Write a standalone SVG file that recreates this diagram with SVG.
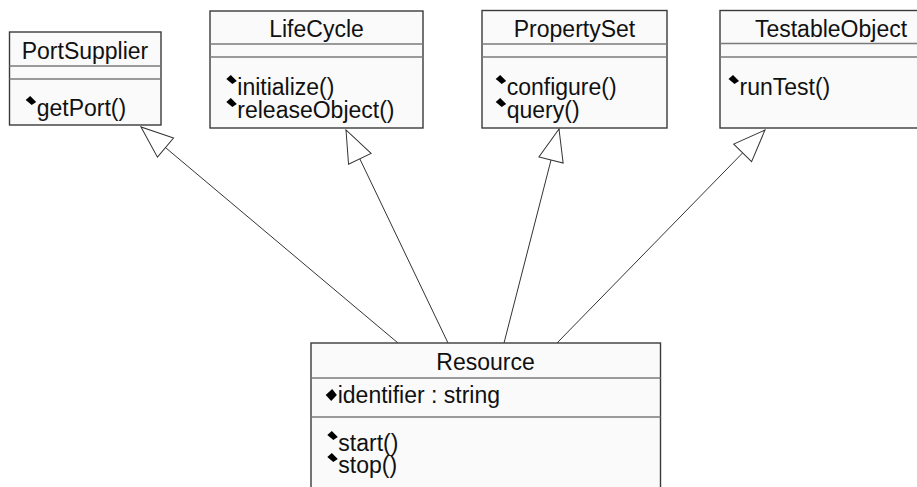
<svg xmlns="http://www.w3.org/2000/svg" xmlns:xlink="http://www.w3.org/1999/xlink" width="917" height="487" viewBox="0 0 917 487">
  <style>
    .box { fill: #fafafa; stroke: #3a3a3a; stroke-width: 1.4; }
    .div { stroke: #7a7a7a; stroke-width: 1.3; }
    .title { font-family: "Liberation Sans", Arial, sans-serif; font-size: 23px; fill: #111; text-anchor: middle; }
    .member { font-family: "Liberation Sans", Arial, sans-serif; font-size: 23px; fill: #111; }
    .edge { stroke: #333; stroke-width: 1; fill: none; marker-end: url(#realize); }
  </style>
  <defs>
    <!-- hollow generalization arrowhead -->
    <marker id="realize" markerUnits="userSpaceOnUse" viewBox="0 0 34 26" refX="33" refY="13" markerWidth="34" markerHeight="26" orient="auto" overflow="visible">
      <path d="M33,13 L1,0.5 L1,25.5 Z" fill="#ffffff" stroke="#333" stroke-width="1"/>
    </marker>
    <!-- operation visibility glyph, placed at text baseline start -->
    <path id="op" d="M-11,-16 L-6.5,-20 L-0.5,-14 L-5,-11 Z" fill="#000"/>
    <!-- attribute visibility glyph -->
    <path id="attr" d="M-12,-7.5 L-5.5,-13.5 L-0.8,-7.5 L-6.5,-1.5 Z" fill="#000"/>
  </defs>

  <g id="connectors">
    <line class="edge" x1="398" y1="343" x2="141" y2="127"/>
    <line class="edge" x1="448" y1="343" x2="346" y2="130"/>
    <line class="edge" x1="504" y1="343" x2="559" y2="129"/>
    <line class="edge" x1="557" y1="343" x2="765" y2="130"/>
  </g>

  <g id="PortSupplier">
    <rect class="box" x="9.5" y="32" width="151.5" height="93"/>
    <line class="div" x1="9.5" y1="66" x2="161" y2="66"/>
    <line class="div" x1="9.5" y1="79" x2="161" y2="79"/>
    <text class="title" x="85" y="58.5">PortSupplier</text>
    <use xlink:href="#op" x="36.7" y="116"/>
    <text class="member" x="36.7" y="116">getPort()</text>
  </g>

  <g id="LifeCycle">
    <rect class="box" x="210" y="11" width="213" height="117"/>
    <line class="div" x1="210" y1="44" x2="423" y2="44"/>
    <line class="div" x1="210" y1="57" x2="423" y2="57"/>
    <text class="title" x="316.5" y="37">LifeCycle</text>
    <use xlink:href="#op" x="237.3" y="95"/>
    <text class="member" x="237.3" y="95">initialize()</text>
    <use xlink:href="#op" x="237.3" y="118"/>
    <text class="member" x="237.3" y="118">releaseObject()</text>
  </g>

  <g id="PropertySet">
    <rect class="box" x="482" y="10.5" width="185" height="117.5"/>
    <line class="div" x1="482" y1="44" x2="667" y2="44"/>
    <line class="div" x1="482" y1="57" x2="667" y2="57"/>
    <text class="title" x="574.5" y="37">PropertySet</text>
    <use xlink:href="#op" x="506.7" y="95"/>
    <text class="member" x="506.7" y="95">configure()</text>
    <use xlink:href="#op" x="506.7" y="118"/>
    <text class="member" x="506.7" y="118">query()</text>
  </g>

  <g id="TestableObject">
    <rect class="box" x="720" y="10.5" width="222" height="117.5"/>
    <line class="div" x1="720" y1="43.5" x2="942" y2="43.5"/>
    <line class="div" x1="720" y1="57" x2="942" y2="57"/>
    <text class="title" x="831" y="37">TestableObject</text>
    <use xlink:href="#op" x="739.5" y="95"/>
    <text class="member" x="739.5" y="95">runTest()</text>
  </g>

  <g id="Resource">
    <rect class="box" x="311" y="343" width="349.5" height="150"/>
    <line class="div" x1="311" y1="378" x2="660.5" y2="378"/>
    <line class="div" x1="311" y1="417" x2="660.5" y2="417"/>
    <text class="title" x="485.5" y="370">Resource</text>
    <use xlink:href="#attr" x="337.7" y="402.5"/>
    <text class="member" x="337.7" y="402.5">identifier : string</text>
    <use xlink:href="#op" x="338.3" y="451"/>
    <text class="member" x="338.3" y="451">start()</text>
    <use xlink:href="#op" x="338.3" y="473"/>
    <text class="member" x="338.3" y="473">stop()</text>
  </g>
</svg>
